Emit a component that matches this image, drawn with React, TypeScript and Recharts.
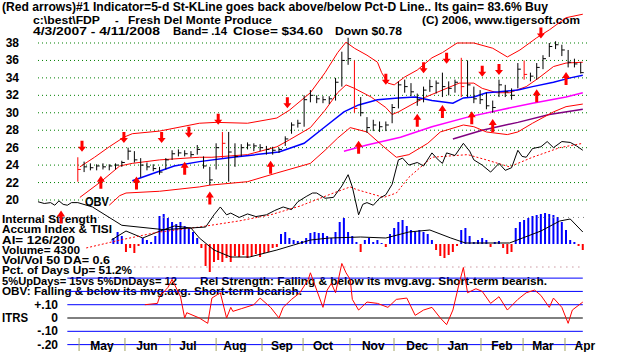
import React from 'react';
import { ComposedChart, XAxis, YAxis, Line, Bar, Cell, Scatter, ErrorBar, ReferenceLine } from 'recharts';

const FONT = '"Liberation Sans", Arial, Helvetica, sans-serif';

// daily bars sampled every third session, first one is early May 2007 (day 19)
const priceHigh = [24.9, 24.4, 24.2, 24.1, 24.2, 24.1, 24.2, 24.5, 26.0, 25.6,
  24.8, 24.3, 24.1, 23.8, 24.8, 25.7, 25.8, 25.7, 25.6, 26.3,
  25.0, 23.8, 26.5, 27.8, 27.8, 26.5, 26.4, 26.6, 26.5, 26.4,
  26.2, 26.1, 26.0, 27.3, 28.9, 29.2, 32.0, 32.6, 32.0, 31.9,
  31.9, 34.0, 37.0, 38.6, 36.0, 31.8, 29.5, 29.2, 29.0, 29.0,
  31.0, 33.6, 33.8, 33.4, 32.2, 33.0, 33.8, 33.7, 34.6, 33.6,
  33.8, 36.3, 36.0, 33.0, 32.6, 32.3, 31.4, 33.8, 33.2, 32.8,
  35.7, 36.0, 34.6, 35.7, 36.6, 38.0, 38.2, 37.8, 37.2, 36.2,
  35.8];
const priceLow = [22.1, 23.2, 23.4, 23.4, 23.5, 23.4, 23.5, 23.8, 24.6, 24.3,
  22.6, 23.4, 23.3, 22.9, 23.5, 24.6, 25.0, 25.0, 24.9, 25.2,
  23.6, 21.7, 23.5, 24.8, 22.1, 23.8, 25.0, 25.8, 25.6, 25.6,
  25.2, 25.2, 25.4, 26.2, 27.6, 28.3, 28.4, 31.2, 31.1, 31.1,
  31.0, 31.4, 33.0, 35.5, 30.0, 29.6, 27.7, 27.9, 27.8, 27.9,
  28.8, 30.5, 32.3, 31.9, 30.8, 31.2, 32.4, 32.2, 31.8, 32.0,
  32.3, 31.8, 31.8, 31.1, 31.0, 30.4, 30.0, 31.8, 31.8, 31.5,
  32.8, 33.8, 33.6, 33.8, 35.0, 36.4, 37.3, 36.5, 35.2, 35.2,
  34.5];
const priceClose = [23.5, 23.8, 23.7, 23.9, 23.8, 23.9, 24.0, 24.3, 25.6, 24.6,
  24.0, 23.8, 23.6, 23.2, 24.6, 25.3, 25.4, 25.3, 25.2, 25.8,
  23.9, 22.3, 26.0, 26.5, 25.5, 25.0, 26.0, 26.3, 26.2, 26.0,
  25.8, 25.7, 25.8, 27.0, 28.6, 28.8, 31.5, 32.0, 31.6, 31.5,
  31.6, 33.5, 36.0, 36.2, 30.5, 30.0, 28.3, 28.6, 28.4, 28.6,
  30.6, 33.2, 33.0, 32.4, 31.5, 32.6, 33.0, 33.4, 33.0, 32.8,
  33.5, 33.0, 33.2, 31.6, 31.5, 30.8, 30.6, 33.2, 32.4, 32.0,
  35.0, 34.4, 34.2, 35.2, 36.2, 37.6, 37.8, 37.2, 35.8, 35.6,
  34.6];
const redBarDays = [19, 88, 151, 202, 232];

const upperDays = [20, 27, 34, 41, 45, 58, 77, 85, 100, 114, 120, 130, 137, 143, 147, 151, 157, 162, 164, 167, 170, 175, 181, 188, 193, 200, 208, 217, 224, 230, 238, 244, 252, 260];
const upperBand = [23.8, 24.9, 26.1, 27.2, 27.6, 27.9, 28.8, 28.9, 28.8, 29.4, 30.3, 32.3, 34.6, 36.9, 38.1, 37.4, 36.6, 35.8, 34.6, 33.4, 33.2, 34.1, 34.9, 36.3, 36.9, 38.0, 38.0, 37.4, 36.4, 37.2, 38.6, 39.5, 40.9, 41.3];

const midDays = [20, 30, 39, 45, 58, 77, 83, 100, 114, 120, 130, 137, 143, 147, 151, 159, 166, 169, 172, 178, 185, 193, 201, 208, 212, 219, 225, 233, 239, 246, 252, 260];
const midBand = [20.3, 22.1, 23.9, 24.2, 24.6, 24.9, 24.9, 25.2, 26.1, 26.9, 28.3, 30.3, 32.3, 33.2, 32.8, 31.8, 30.6, 29.8, 30.1, 30.9, 31.8, 32.6, 33.4, 33.4, 32.8, 32.3, 32.3, 33.0, 34.0, 35.3, 35.7, 35.8];

const lowerDays = [34, 39, 42, 58, 77, 82, 100, 114, 130, 137, 143, 149, 157, 165, 171, 177, 186, 192, 203, 208, 214, 224, 229, 236, 246, 252, 260];
const lowerBand = [19.4, 20.5, 20.8, 21.0, 21.5, 21.7, 22.1, 23.1, 24.2, 25.7, 27.1, 28.3, 27.8, 26.1, 24.9, 25.2, 26.5, 27.8, 28.6, 28.4, 27.8, 27.5, 27.8, 28.8, 30.1, 30.7, 31.0];

const ma50Days = [45, 65, 77, 93, 115, 127, 137, 146, 153, 162, 172, 180, 188, 198, 203, 208, 214, 220, 229, 236, 246, 254, 260];
const ma50 = [22.2, 23.9, 24.4, 24.9, 25.5, 26.5, 28.4, 30.1, 30.9, 31.5, 31.7, 31.8, 31.4, 31.1, 31.7, 31.8, 32.3, 32.4, 32.6, 33.0, 33.5, 34.0, 34.3];

const pinkDays = [146, 157, 173, 188, 205, 220, 236, 252, 260];
const pinkLine = [25.6, 26.3, 27.2, 28.4, 29.5, 30.3, 31.1, 31.8, 32.3];
const purpleDays = [198, 212, 229, 244, 260];
const purpleLine = [27.0, 28.0, 28.9, 29.8, 30.4];

const obvDays = [0, 3, 6, 8, 10, 12, 14, 16, 19, 26, 40, 60, 80, 84, 87, 90, 92, 96, 100, 104,
  109, 113, 117, 121, 124, 128, 131, 133, 137, 141, 145, 148, 150, 153, 155, 157, 160, 163, 166, 169,
  172, 174, 177, 181, 184, 188, 191, 193, 195, 199, 203, 206, 208, 212, 216, 220, 223, 226, 229, 231,
  233, 236, 240, 243, 246, 250, 254, 257, 260];
const obv = [19.8, 19.6, 19.7, 19.4, 19.9, 19.5, 19.4, 19.7, 19.7, 19.2, 17.1, 16.6, 16.9, 18.3, 19.2, 18.3, 18.5, 18.0, 18.4, 18.1,
  18.3, 18.8, 19.2, 18.9, 19.8, 20.4, 20.8, 20.8, 20.2, 20.3, 21.6, 22.9, 21.5, 18.3, 19.5, 19.7, 19.4, 20.2, 20.6, 21.8,
  24.6, 24.8, 24.0, 24.3, 23.9, 25.4, 24.6, 24.2, 25.4, 25.1, 26.5, 25.6, 24.6, 24.0, 23.2, 24.2, 23.4, 23.7, 25.7, 25.0,
  24.9, 25.9, 26.1, 26.7, 26.0, 26.7, 26.6, 26.2, 25.7];
const obvMaDays = [23, 39, 57, 77, 96, 111, 125, 141, 149, 152, 165, 171, 177, 188, 205, 214, 225, 236, 249, 260];
const obvMa = [14.5, 15.4, 16.3, 16.9, 17.6, 18.3, 19.3, 20.8, 21.5, 21.2, 20.3, 20.8, 22.6, 24.9, 25.2, 24.6, 23.8, 24.9, 26.0, 26.5];

const downArrowDays = [21, 41, 59, 72, 86, 119, 166, 184, 195, 212, 220, 240];
const downArrowAt = [26.1, 27.1, 27.1, 27.7, 29.2, 31.1, 33.8, 35.1, 36.2, 34.7, 34.9, 39.1];
const upArrowDays = [11, 30, 47, 70, 82, 111, 153, 181, 193, 207, 217, 238, 252];
const upArrowAt = [18.1, 22.1, 22.0, 23.7, 20.3, 23.8, 26.1, 29.2, 30.2, 29.5, 28.6, 32.0, 34.0];

// accumulation index histogram, every second session from day 36
const accumIndex = [0.06, 0.12, 0.08, -0.08, -0.04, -0.09, -0.02, 0.06, 0.04, 0.02,
  0.08, 0.28, 0.30, 0.26, 0.22, 0.20, 0.22, 0.18, 0.16, 0.12,
  0.06, -0.04, -0.22, -0.28, -0.18, -0.16, -0.18, -0.14, -0.18, -0.12,
  -0.13, -0.11, -0.14, -0.12, -0.10, -0.13, -0.09, -0.08, -0.04, -0.03,
  0.10, 0.12, 0.06, 0.04, 0.03, 0.03, 0.06, 0.11, 0.12, 0.11,
  0.11, 0.08, 0.06, 0.12, 0.22, 0.26, 0.12, 0.08, 0.02, -0.08,
  0.04, 0.06, 0.02, 0.04, 0.01, -0.03, 0.10, 0.16, 0.22, 0.24,
  0.18, 0.14, 0.12, 0.14, 0.12, 0.10, 0.04, -0.06, -0.12, -0.14,
  -0.11, -0.08, -0.02, 0.14, 0.16, 0.08, 0.02, 0.04, 0.06, 0.04,
  -0.03, 0.02, 0.03, -0.04, -0.10, -0.08, 0.16, 0.22, 0.24, 0.26,
  0.28, 0.29, 0.30, 0.31, 0.30, 0.29, 0.27, 0.22, 0.14, 0.04,
  0.02, -0.02, -0.06];
const tisiDays = [35, 42, 50, 57, 65, 73, 77, 84, 92, 101, 114, 122, 130, 139, 154, 166, 177, 187, 197, 204, 225, 240, 249, 254, 260];
const tisi = [0.04, 0.13, 0.06, 0.12, 0.18, 0.16, 0.06, -0.06, -0.13, -0.13, -0.06, -0.01, 0.04, 0.06, 0.07, 0.06, 0.12, 0.14, 0.06, 0.01, 0.01, 0.13, 0.23, 0.25, 0.12];

const itrsDays = [51, 57, 58, 62, 64, 68, 70, 71, 77, 81, 83, 87, 90, 92, 93, 97, 103, 106, 111, 115,
  117, 121, 125, 129, 130, 133, 136, 138, 140, 142, 145, 147, 149, 150, 153, 157, 162, 167, 171, 176,
  180, 184, 188, 192, 195, 198, 201, 203, 205, 209, 212, 216, 220, 224, 229, 233, 237, 240, 244, 246,
  250, 253, 255, 260];
const itrs = [0.10, 0.11, 0.16, 0.23, 0.29, 0.16, 0, 0.04, 0, -0.04, 0.15, 0.19, 0, 0.08, 0.05, 0.07, 0.10, 0.15, 0.08, 0,
  0.08, 0.14, 0.19, 0.29, 0.34, 0.21, 0.08, 0.21, 0.26, 0.19, 0.41, 0.34, 0.29, 0.14, 0.06, 0.12, 0.11, 0.08, 0.14, 0.15,
  0.02, 0.06, 0.08, 0, -0.05, 0.06, 0.26, 0.38, 0.19, 0.22, 0.20, 0.11, 0.16, 0.06, 0.14, 0.19, 0.21, 0.17, 0.08, 0.15,
  0.08, -0.04, 0.06, 0.12];

const priceTicks = [20, 22, 24, 26, 28, 30, 32, 34, 36, 38];
const itrsTicks = [0.1, 0, -0.1, -0.2];
const itrsBlueLines = [0.3, 0.2, 0.1, -0.1, -0.2];
const monthStartDays = [19.6, 41.5, 63, 85, 106.9, 126.5, 148.9, 169.9, 190.9, 211.4, 231.5, 251.5];
const monthLabelDays = [30.5, 52, 71.6, 94, 116.4, 136, 160, 181, 200.4, 221.4, 241, 261];
const monthNames = ['May', 'Jun', 'Jul', 'Aug', 'Sep', 'Oct', 'Nov', 'Dec', 'Jan', 'Feb', 'Mar', 'Apr'];

const pts = (days: number[], vals: number[]) => days.map((d, i) => ({ d, v: vals[i] }));

const priceRows = priceHigh.map((h, i) => {
  const d = 19 + 3 * i;
  const c = priceClose[i];
  return { d, c, err: [c - priceLow[i], h - c] };
});
const blackBars = priceRows.filter((r) => !redBarDays.includes(r.d));
const redBars = priceRows.filter((r) => redBarDays.includes(r.d));
const accumRows = accumIndex.map((v, i) => ({ d: 36 + 2 * i, v }));

const labels = [
  { t: '(Red arrows)#1 Indicator=5-d St-KLine goes back above/below Pct-D Line.. Its gain= 83.6% Buy', x: 2, y: 11, w: 546 },
  { t: 'c:\\best\\FDP', x: 33, y: 24, w: 67, s: 11 },
  { t: '-', x: 115, y: 24, s: 11 },
  { t: 'Fresh Del Monte Produce', x: 128, y: 24, w: 144, s: 11 },
  { t: '(C) 2006, www.tigersoft.com', x: 422, y: 24, w: 158, s: 11 },
  { t: '4/3/2007 - 4/11/2008', x: 33, y: 35, w: 127, s: 11 },
  { t: 'Band= .14', x: 173, y: 35, w: 54, s: 11 },
  { t: 'Close= $34.60', x: 233, y: 35, w: 90, s: 11 },
  { t: 'Down $0.78', x: 335, y: 35, w: 67, s: 11 },
  { t: 'OBV', x: 85, y: 206, w: 24, s: 13 },
  { t: 'Internal Strength', x: 2, y: 223, w: 95, s: 10 },
  { t: 'Accum Index & TISI', x: 2, y: 233, w: 110, s: 10 },
  { t: 'AI= 126/200', x: 2, y: 244, w: 73, s: 10 },
  { t: 'Volume= 4300', x: 2, y: 254, w: 78, s: 10 },
  { t: 'Vol/Vol 50 DA= 0.6', x: 2, y: 264, w: 108, s: 10 },
  { t: 'Pct. of Days Up= 51.2%', x: 2, y: 274, w: 130, s: 10 },
  { t: '5%UpDays= 15vs 5%DnDays= 12', x: 2, y: 285, w: 175, s: 10 },
  { t: 'Rel Strength: Falling & below its mvg.avg. Short-term bearish.', x: 200, y: 285, w: 347, s: 10 },
  { t: 'OBV: Falling & below its mvg.avg. Short-term bearish.', x: 2, y: 295, w: 300, s: 10 },
  { t: 'ITRS', x: 2, y: 322, w: 26, s: 13 },
];

const PriceTick = (p: any) => (
  <text x={19} y={p.y + 4} textAnchor="end" fontFamily={FONT} fontWeight="bold" fontSize={12} fill="#000">
    {p.payload.value}
  </text>
);

const ItrsTick = (p: any) => {
  const v = p.payload.value;
  const s = v === 0 ? '0' : (v > 0 ? '+' : '-') + '.' + String(Math.round(Math.abs(v) * 100)).padStart(2, '0');
  return (
    <text x={58} y={p.y + 4} textAnchor="end" fontFamily={FONT} fontWeight="bold" fontSize={12} fill="#000">{s}</text>
  );
};

const MonthTick = (p: any) => {
  const i = monthLabelDays.indexOf(p.payload.value);
  if (i >= 0) {
    return (
      <text x={p.x} y={350} textAnchor="middle" fontFamily={FONT} fontWeight="bold" fontSize={12} fill="#000">
        {monthNames[i]}
      </text>
    );
  }
  return <line x1={p.x} x2={p.x} y1={338} y2={351} stroke="#a0a060" strokeWidth={1} />;
};

const CloseTick = (p: any) => <line x1={p.cx} x2={p.cx + 3} y1={p.cy} y2={p.cy} stroke="#000" />;
const RedCloseTick = (p: any) => <line x1={p.cx} x2={p.cx + 3} y1={p.cy} y2={p.cy} stroke="#f00" />;

const DownArrow = (p: any) => {
  const { cx, cy } = p;
  return (
    <path
      d={`M${cx - 1.5},${cy - 6} L${cx + 1.5},${cy - 6} L${cx + 1.5},${cy} L${cx + 4},${cy} L${cx},${cy + 5} L${cx - 4},${cy} L${cx - 1.5},${cy} Z`}
      fill="#f00"
    />
  );
};
const UpArrow = (p: any) => {
  const { cx, cy } = p;
  return (
    <path
      d={`M${cx - 1.5},${cy + 7} L${cx + 1.5},${cy + 7} L${cx + 1.5},${cy} L${cx + 4},${cy} L${cx},${cy - 6} L${cx - 4},${cy} L${cx - 1.5},${cy} Z`}
      fill="#f00"
    />
  );
};

const xTicks = [...monthStartDays, ...monthLabelDays].sort((a, b) => a - b);

export default function App() {
  return (
    <div style={{ position: 'absolute', left: 0, top: 0, width: 618, height: 352, background: '#fff', overflow: 'hidden' }}>
      <svg width={618} height={352} style={{ position: 'absolute', left: 0, top: 0 }}>
        {labels.map((l, i) => (
          <text
            key={i}
            x={l.x}
            y={l.y}
            fontFamily={FONT}
            fontWeight="bold"
            fontSize={l.s || 12}
            fill="#000"
            textLength={l.w}
            lengthAdjust={l.w ? 'spacingAndGlyphs' : undefined}
          >
            {l.t}
          </text>
        ))}
      </svg>
      <div style={{ position: 'absolute', left: 0, top: 0 }}>
        <ComposedChart width={618} height={352} data={accumRows} margin={{ top: 0, right: 31, bottom: 0, left: 0 }}>
          <XAxis
            dataKey="d"
            type="number"
            domain={[0, 262]}
            allowDataOverflow
            ticks={xTicks}
            interval={0}
            height={1}
            axisLine={false}
            tickLine={false}
            tick={MonthTick}
          />
          <YAxis
            yAxisId="p"
            type="number"
            domain={[2.687, 42.93]}
            allowDataOverflow
            ticks={priceTicks}
            width={37}
            axisLine={false}
            tickLine={false}
            tick={PriceTick}
            interval={0}
          />
          <YAxis
            yAxisId="i"
            type="number"
            domain={[-0.248, 2.391]}
            allowDataOverflow
            ticks={itrsTicks}
            width={1}
            axisLine={false}
            tickLine={false}
            tick={ItrsTick}
            interval={0}
          />
          <YAxis yAxisId="a" type="number" domain={[-1.07, 2.44]} allowDataOverflow hide />

          {priceTicks.map((v) => (
            <ReferenceLine key={'g' + v} yAxisId="p" y={v} stroke="#008000" strokeDasharray="1 3" />
          ))}
          <ReferenceLine yAxisId="p" y={18} stroke="#808080" strokeDasharray="1 4" />
          <ReferenceLine
            yAxisId="a"
            segment={[{ x: 46, y: -0.23 }, { x: 260, y: -0.23 }]}
            stroke="#b06070"
            strokeDasharray="1 5"
          />
          {itrsBlueLines.map((v) => (
            <ReferenceLine
              key={'i' + v}
              yAxisId="i"
              segment={[{ x: 14, y: v }, { x: 260, y: v }]}
              stroke="#0000ff"
            />
          ))}
          <ReferenceLine yAxisId="i" segment={[{ x: 14, y: 0 }, { x: 260, y: 0 }]} stroke="#000" />

          <Bar dataKey="v" yAxisId="a" barSize={2} isAnimationActive={false}>
            {accumRows.map((r, i) => (
              <Cell key={i} fill={r.v >= 0 ? '#0000ff' : '#ff0000'} />
            ))}
          </Bar>
          <Line data={pts(tisiDays, tisi)} dataKey="v" yAxisId="a" stroke="#000" strokeWidth={1} dot={false} isAnimationActive={false} />
          <Line data={pts(itrsDays, itrs)} dataKey="v" yAxisId="i" stroke="#ff0000" strokeWidth={1} dot={false} isAnimationActive={false} />

          <Line data={pts(obvMaDays, obvMa)} dataKey="v" yAxisId="p" stroke="#ff0000" strokeDasharray="2 2" strokeWidth={1} dot={false} isAnimationActive={false} />
          <Line data={pts(obvDays, obv)} dataKey="v" yAxisId="p" stroke="#000" strokeWidth={1} dot={false} isAnimationActive={false} />
          <Line data={pts(purpleDays, purpleLine)} dataKey="v" yAxisId="p" stroke="#800080" strokeWidth={1.5} dot={false} isAnimationActive={false} />
          <Line data={pts(pinkDays, pinkLine)} dataKey="v" yAxisId="p" stroke="#ff00ff" strokeWidth={1.5} dot={false} isAnimationActive={false} />
          <Line data={pts(lowerDays, lowerBand)} dataKey="v" yAxisId="p" stroke="#ff0000" strokeWidth={1} dot={false} isAnimationActive={false} />
          <Line data={pts(upperDays, upperBand)} dataKey="v" yAxisId="p" stroke="#ff0000" strokeWidth={1} dot={false} isAnimationActive={false} />
          <Line data={pts(midDays, midBand)} dataKey="v" yAxisId="p" stroke="#ff0000" strokeWidth={1} dot={false} isAnimationActive={false} />
          <Line data={pts(ma50Days, ma50)} dataKey="v" yAxisId="p" stroke="#0000ff" strokeWidth={1.5} dot={false} isAnimationActive={false} />

          <Scatter data={blackBars} dataKey="c" yAxisId="p" shape={CloseTick} isAnimationActive={false}>
            <ErrorBar dataKey="err" direction="y" width={0} stroke="#000" strokeWidth={1} />
          </Scatter>
          <Scatter data={redBars} dataKey="c" yAxisId="p" shape={RedCloseTick} isAnimationActive={false}>
            <ErrorBar dataKey="err" direction="y" width={0} stroke="#f00" strokeWidth={1} />
          </Scatter>
          <Scatter data={pts(downArrowDays, downArrowAt)} dataKey="v" yAxisId="p" shape={DownArrow} isAnimationActive={false} />
          <Scatter data={pts(upArrowDays, upArrowAt)} dataKey="v" yAxisId="p" shape={UpArrow} isAnimationActive={false} />
        </ComposedChart>
      </div>
    </div>
  );
}
